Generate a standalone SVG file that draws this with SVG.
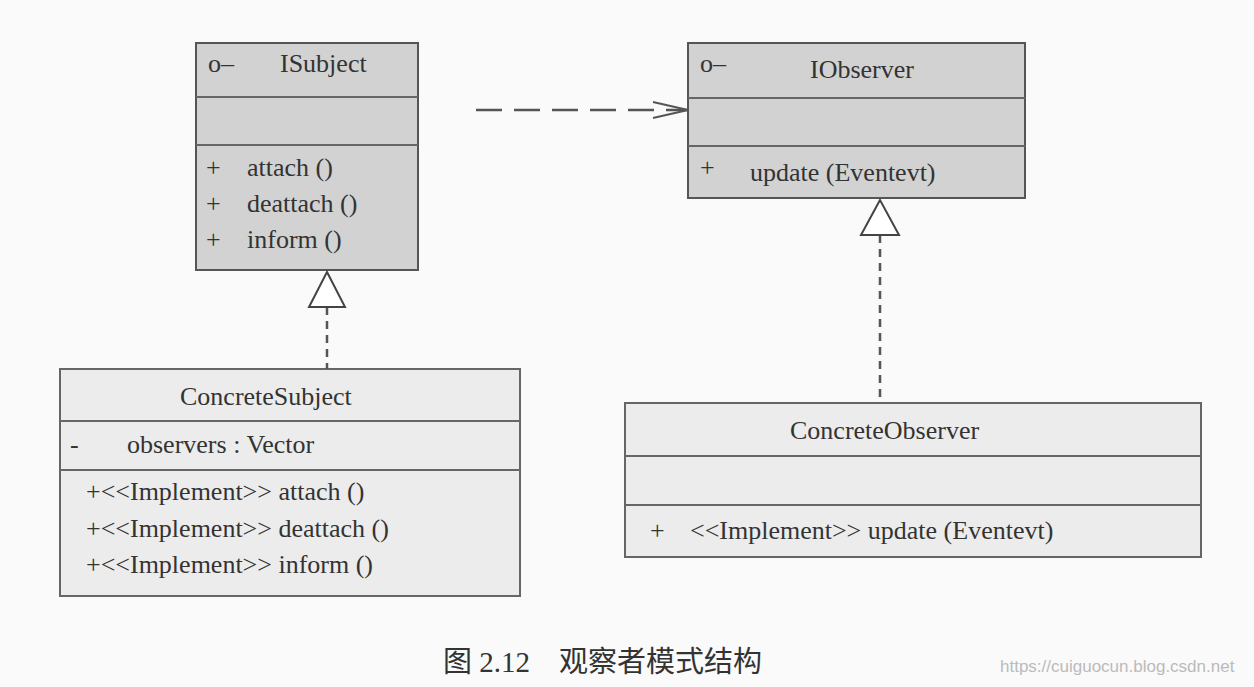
<svg xmlns="http://www.w3.org/2000/svg" width="1254" height="687" viewBox="0 0 1254 687">
<style>
text{font-family:"Liberation Serif","Noto Sans CJK SC",serif;font-size:26px;fill:#333}
.i{fill:#d2d2d2;stroke:#555;stroke-width:2}
.c{fill:#ececec;stroke:#666;stroke-width:2}
.l{stroke:#666;stroke-width:2}
.d{stroke:#555;stroke-width:2.5;stroke-dasharray:8 6;fill:none}
.t{fill:#fff;stroke:#444;stroke-width:2}
</style>
<defs><marker id="open" markerWidth="40" markerHeight="20" refX="37" refY="10" orient="auto" markerUnits="userSpaceOnUse"><path d="M2,2 L37,10 L2,18" fill="none" stroke="#555" stroke-width="2"/></marker></defs>
<rect width="1254" height="687" fill="#fafafa"/>
<g id="ISubject">
<rect class="i" x="196" y="43" width="222" height="227"/>
<line class="l" x1="196" y1="97" x2="418" y2="97"/><line class="l" x1="196" y1="145" x2="418" y2="145"/>
<text x="208" y="72">o–</text><text x="280" y="72">ISubject</text>
<text x="206" y="176">+</text><text x="247" y="176">attach ()</text>
<text x="206" y="212">+</text><text x="247" y="212">deattach ()</text>
<text x="206" y="248">+</text><text x="247" y="248">inform ()</text>
</g>
<g id="IObserver">
<rect class="i" x="688" y="43" width="337" height="155"/>
<line class="l" x1="688" y1="98" x2="1025" y2="98"/><line class="l" x1="688" y1="146" x2="1025" y2="146"/>
<text x="700" y="72">o–</text><text x="810" y="78">IObserver</text>
<text x="700" y="176">+</text><text x="750" y="181">update (Eventevt)</text>
</g>
<g id="ConcreteSubject">
<rect class="c" x="60" y="369" width="460" height="227"/>
<line class="l" x1="60" y1="421" x2="520" y2="421"/><line class="l" x1="60" y1="470" x2="520" y2="470"/>
<text x="180" y="405">ConcreteSubject</text>
<text x="70" y="453">-</text><text x="127" y="453">observers : Vector</text>
<text x="86" y="500">+&lt;&lt;Implement&gt;&gt; attach ()</text>
<text x="86" y="537">+&lt;&lt;Implement&gt;&gt; deattach ()</text>
<text x="86" y="573">+&lt;&lt;Implement&gt;&gt; inform ()</text>
</g>
<g id="ConcreteObserver">
<rect class="c" x="625" y="403" width="576" height="154"/>
<line class="l" x1="625" y1="456" x2="1201" y2="456"/><line class="l" x1="625" y1="505" x2="1201" y2="505"/>
<text x="790" y="439">ConcreteObserver</text>
<text x="650" y="539">+</text><text x="690" y="539">&lt;&lt;Implement&gt;&gt; update (Eventevt)</text>
</g>
<g id="connectors">
<line class="d" x1="476" y1="110" x2="688" y2="110" style="stroke-dasharray:26 12" marker-end="url(#open)"/>
<line class="d" x1="327" y1="307" x2="327" y2="369"/>
<polygon class="t" points="327,272 309,307 345,307"/>
<line class="d" x1="880" y1="235" x2="880" y2="403"/>
<polygon class="t" points="880,200 861,235 899,235"/>
</g>
<text x="443" y="672" style="font-size:29px">图 2.12　观察者模式结构</text>
<text x="1000" y="672" style="font-family:'Liberation Sans',sans-serif;font-size:17px;fill:#bbb">https://cuiguocun.blog.csdn.net</text>
</svg>
